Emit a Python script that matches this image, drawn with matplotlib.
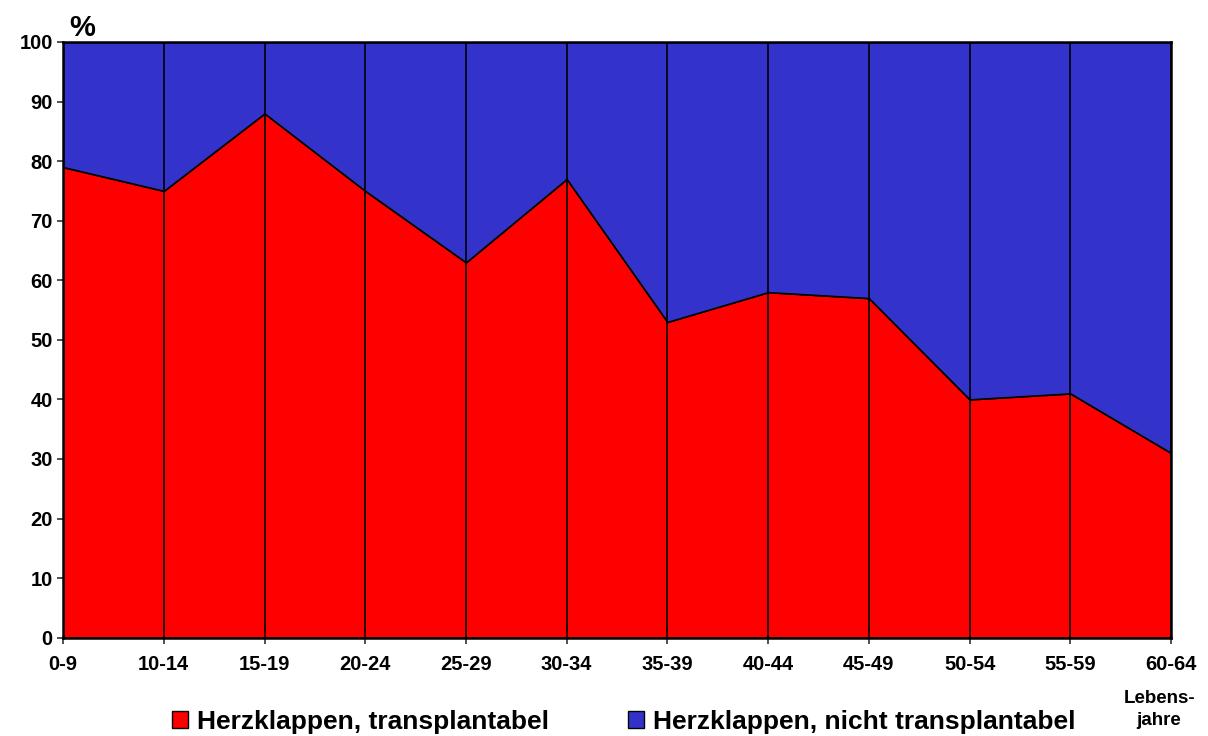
import numpy as np
import matplotlib.pyplot as plt
from matplotlib.patches import Patch

plt.rcParams["font.family"] = ["Liberation Sans", "DejaVu Sans"]
plt.rcParams["font.weight"] = "bold"

# Daten
altersgruppen = ["0-9", "10-14", "15-19", "20-24", "25-29", "30-34",
                 "35-39", "40-44", "45-49", "50-54", "55-59", "60-64"]
transplantabel = [79, 75, 88, 75, 63, 77, 53, 58, 57, 40, 41, 31]
nicht_transplantabel = [100 - v for v in transplantabel]

x = np.arange(len(altersgruppen))
unten = np.array(transplantabel)
oben = unten + np.array(nicht_transplantabel)

fig = plt.figure(figsize=(12.08, 7.36), dpi=100)
ax = fig.add_axes([0.0522, 0.1336, 0.9172, 0.8094])

ax.fill_between(x, 0, unten, facecolor="#FF0000", edgecolor="black", linewidth=1.2)
ax.fill_between(x, unten, oben, facecolor="#3333CC", edgecolor="black", linewidth=1.2)
ax.vlines(x, 0, oben, colors="black", linewidth=1.2)

ax.set_xlim(0, len(altersgruppen) - 1)
ax.set_ylim(0, 100)
ax.set_xticks(x)
ax.set_xticklabels(altersgruppen, fontsize=14.5, fontweight="bold")
ax.set_yticks(np.arange(0, 101, 10))
ax.set_yticklabels([str(v) for v in range(0, 101, 10)], fontsize=14.5, fontweight="bold")
ax.tick_params(axis="both", direction="out", length=4.5, width=1.2, color="#333333")
ax.tick_params(axis="x", pad=8)
ax.tick_params(axis="y", pad=3)
for s in ax.spines.values():
    s.set_linewidth(1.8)
    s.set_color("black")

fig.text(0.057, 0.951, "%", fontsize=21, fontweight="bold", ha="left", va="baseline")
fig.text(0.9595, 0.036, "Lebens-\njahre", fontsize=13.5, fontweight="bold",
         ha="center", va="center", linespacing=1.35)

handles = [Patch(facecolor="#FF0000", edgecolor="black", linewidth=1),
           Patch(facecolor="#3333CC", edgecolor="black", linewidth=1)]
fig.legend(handles, ["Herzklappen, transplantabel", "Herzklappen, nicht transplantabel"],
           loc="center", bbox_to_anchor=(0.5166, 0.0197), ncol=2, frameon=False,
           prop={"size": 19, "weight": "bold"}, handlelength=0.6, handleheight=0.6,
           handletextpad=0.34, columnspacing=3.0, borderpad=0, borderaxespad=0)

fig.savefig("out.png", dpi=100)
